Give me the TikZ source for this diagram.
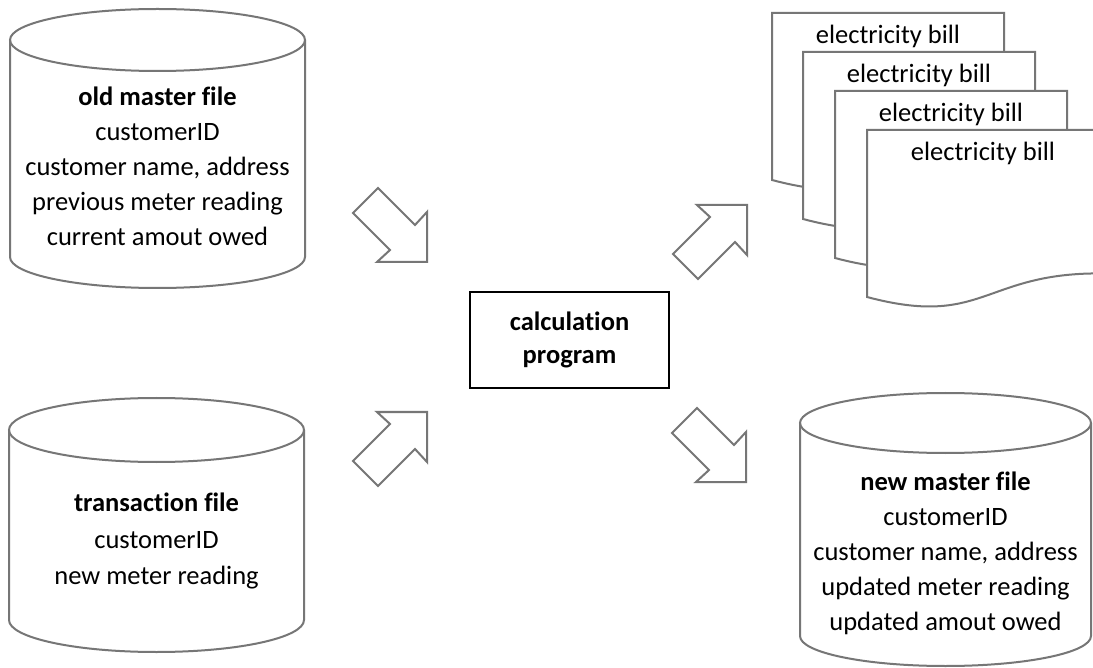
\documentclass[tikz,border=0pt]{standalone}
\usepackage{fontspec}
\setmainfont{Carlito}[Ligatures=CommonOff]
\definecolor{linegray}{RGB}{118,118,118}
\tikzset{
  shapeline/.style={draw=linegray, line width=2pt, line join=miter},
  txt/.style={inner sep=0pt, align=center, font=\fontsize{26.5}{35}\selectfont},
  billtxt/.style={inner sep=0pt, font=\fontsize{26.5}{32}\selectfont},
  procbox/.style={draw=black, line width=1.2pt, minimum width=199pt, minimum height=96pt, inner sep=0pt, align=center, font=\fontsize{26.5}{33}\selectfont\bfseries},
}
\begin{document}
\begin{tikzpicture}[x=1pt,y=-1pt]
\useasboundingbox (0,0) rectangle (1093,668);
\fill[white] (0,0) rectangle (1093,668);

% old master file cylinder
\draw[shapeline] (10,40) -- (10,257) .. controls (10,274.1) and (76,288) .. (157.5,288) .. controls (239,288) and (305,274.1) .. (305,257) -- (305,40);
\draw[shapeline] (157.5,40) ellipse [x radius=147.5, y radius=31];
\node[txt] (oldmaster) at (157.5,166) {\textbf{old master file}\\customerID\\customer name, address\\previous meter reading\\current amout owed};

% transaction file cylinder
\draw[shapeline] (9,430) -- (9,620) .. controls (9,637.7) and (75,652) .. (156.5,652) .. controls (238,652) and (304,637.7) .. (304,620) -- (304,430);
\draw[shapeline] (156.5,430) ellipse [x radius=147.5, y radius=32];
\node[txt, font=\fontsize{26.5}{36.5}\selectfont] (transaction) at (156.5,541) {\textbf{transaction file}\\customerID\\new meter reading};

% new master file cylinder
\draw[shapeline] (800,423) -- (800,636) .. controls (800,652.6) and (865,666) .. (945.5,666) .. controls (1026,666) and (1091,652.6) .. (1091,636) -- (1091,423);
\draw[shapeline] (945.5,423) ellipse [x radius=145.5, y radius=30];
\node[txt] (newmaster) at (945.5,553.5) {\textbf{new master file}\\customerID\\customer name, address\\updated meter reading\\updated amout owed};

% calculation program
\node[procbox] (calc) at (569.5,340) {calculation\\program};

% electricity bills
\foreach \bx/\by/\nm in {772/13/bill1, 803/52/bill2, 835/91/bill3, 867/130/bill4}{
  \begin{scope}[shift={(\bx,\by)}]
    \filldraw[shapeline, fill=white] (0,0) -- (232,0) -- (232,143.4) .. controls (116,143.4) and (116,197.9) .. (0,167) -- cycle;
    \node[billtxt] (\nm) at (116,23) {electricity bill};
  \end{scope}
}

% block arrows
\draw[shapeline, shift={(427,262)}] (0,0) -- (-50,0) -- (-37,-12) -- (-74,-49) -- (-49,-74) -- (-12,-37) -- (0,-50) -- cycle;
\draw[shapeline, shift={(427,412)}, yscale=-1] (0,0) -- (-50,0) -- (-37,-12) -- (-74,-49) -- (-49,-74) -- (-12,-37) -- (0,-50) -- cycle;
\draw[shapeline, shift={(747,205)}, yscale=-1] (0,0) -- (-50,0) -- (-37,-12) -- (-74,-49) -- (-49,-74) -- (-12,-37) -- (0,-50) -- cycle;
\draw[shapeline, shift={(746,482)}] (0,0) -- (-50,0) -- (-37,-12) -- (-74,-49) -- (-49,-74) -- (-12,-37) -- (0,-50) -- cycle;
\end{tikzpicture}
\end{document}
